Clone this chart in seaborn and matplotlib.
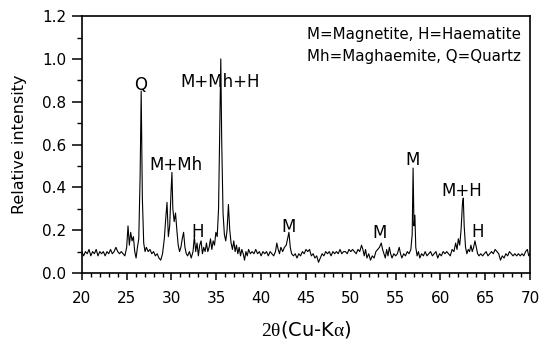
import matplotlib
matplotlib.use("Agg")
import matplotlib.pyplot as plt
import seaborn as sns
import pandas as pd
from matplotlib.ticker import MultipleLocator

# ---- data ----
two_theta = [
    20.0, 20.2, 20.4, 20.6, 20.8, 21.0, 21.2, 21.4, 21.6, 21.8,
    22.0, 22.2, 22.4, 22.6, 22.8, 23.0, 23.2, 23.4, 23.6, 23.8,
    24.0, 24.2, 24.4, 24.6, 24.8, 25.0, 25.15, 25.3, 25.45, 25.6,
    25.75, 25.9, 26.05, 26.2, 26.35, 26.5, 26.62, 26.75, 26.9, 27.05,
    27.2, 27.4, 27.6, 27.8, 28.0, 28.2, 28.4, 28.6, 28.8, 29.0,
    29.2, 29.35, 29.5, 29.65, 29.8, 29.95, 30.05, 30.15, 30.3, 30.45,
    30.6, 30.75, 30.9, 31.05, 31.2, 31.35, 31.5, 31.65, 31.8, 32.0,
    32.2, 32.4, 32.55, 32.7, 32.85, 33.0, 33.15, 33.3, 33.45, 33.6,
    33.75, 33.9, 34.05, 34.2, 34.35, 34.5, 34.65, 34.8, 34.95, 35.1,
    35.25, 35.4, 35.5, 35.6, 35.75, 35.9, 36.05, 36.2, 36.35, 36.5,
    36.65, 36.8, 36.95, 37.1, 37.25, 37.4, 37.55, 37.7, 37.85, 38.0,
    38.15, 38.3, 38.45, 38.6, 38.8, 39.0, 39.2, 39.4, 39.6, 39.8,
    40.0, 40.2, 40.4, 40.6, 40.8, 41.0, 41.2, 41.4, 41.6, 41.75,
    41.9, 42.05, 42.2, 42.4, 42.6, 42.8, 42.95, 43.1, 43.25, 43.4,
    43.6, 43.8, 44.0, 44.2, 44.4, 44.6, 44.8, 45.0, 45.2, 45.4,
    45.6, 45.8, 46.0, 46.2, 46.4, 46.6, 46.8, 47.0, 47.2, 47.4,
    47.6, 47.8, 48.0, 48.2, 48.4, 48.6, 48.8, 49.0, 49.2, 49.4,
    49.6, 49.8, 50.0, 50.2, 50.4, 50.6, 50.8, 51.0, 51.2, 51.35,
    51.5, 51.65, 51.8, 52.0, 52.2, 52.4, 52.6, 52.8, 53.0, 53.2,
    53.4, 53.55, 53.7, 53.85, 54.0, 54.15, 54.3, 54.45, 54.6, 54.8,
    55.0, 55.2, 55.4, 55.55, 55.7, 55.9, 56.1, 56.3, 56.5, 56.7,
    56.85, 56.95, 57.05, 57.15, 57.25, 57.4, 57.55, 57.7, 57.9, 58.1,
    58.3, 58.5, 58.7, 58.9, 59.1, 59.3, 59.5, 59.7, 59.9, 60.1,
    60.3, 60.5, 60.7, 60.9, 61.1, 61.3, 61.5, 61.7, 61.85, 62.0,
    62.15, 62.3, 62.45, 62.55, 62.65, 62.8, 62.95, 63.1, 63.25, 63.4,
    63.55, 63.7, 63.85, 64.0, 64.15, 64.3, 64.5, 64.7, 64.9, 65.1,
    65.3, 65.5, 65.7, 65.9, 66.1, 66.3, 66.5, 66.7, 66.9, 67.1,
    67.3, 67.5, 67.7, 67.9, 68.1, 68.3, 68.5, 68.7, 68.9, 69.1,
    69.3, 69.5, 69.7, 69.85, 70.0,
]
intensity = [
    0.10, 0.08, 0.10, 0.09, 0.11, 0.08, 0.10, 0.09, 0.11, 0.08,
    0.10, 0.09, 0.10, 0.08, 0.10, 0.09, 0.11, 0.09, 0.10, 0.12,
    0.10, 0.09, 0.10, 0.09, 0.08, 0.12, 0.22, 0.13, 0.19, 0.15,
    0.17, 0.10, 0.07, 0.12, 0.16, 0.45, 0.85, 0.35, 0.14, 0.10,
    0.12, 0.10, 0.11, 0.09, 0.10, 0.08, 0.09, 0.07, 0.06, 0.09,
    0.16, 0.25, 0.33, 0.17, 0.22, 0.38, 0.47, 0.30, 0.24, 0.28,
    0.20, 0.13, 0.10, 0.12, 0.16, 0.19, 0.12, 0.09, 0.08, 0.10,
    0.07, 0.10, 0.17, 0.10, 0.14, 0.08, 0.13, 0.15, 0.09, 0.12,
    0.10, 0.14, 0.10, 0.12, 0.16, 0.11, 0.15, 0.13, 0.19, 0.17,
    0.30, 0.72, 1.00, 0.62, 0.28, 0.18, 0.15, 0.20, 0.32, 0.20,
    0.14, 0.11, 0.15, 0.10, 0.13, 0.09, 0.12, 0.08, 0.11, 0.09,
    0.06, 0.10, 0.08, 0.11, 0.09, 0.10, 0.09, 0.11, 0.09, 0.10,
    0.08, 0.10, 0.09, 0.10, 0.08, 0.10, 0.09, 0.08, 0.10, 0.14,
    0.11, 0.09, 0.12, 0.10, 0.12, 0.13, 0.16, 0.19, 0.12, 0.09,
    0.08, 0.09, 0.07, 0.09, 0.08, 0.10, 0.09, 0.11, 0.10, 0.11,
    0.08, 0.09, 0.07, 0.08, 0.05, 0.07, 0.09, 0.08, 0.10, 0.09,
    0.10, 0.08, 0.10, 0.09, 0.10, 0.09, 0.11, 0.09, 0.10, 0.10,
    0.09, 0.11, 0.10, 0.11, 0.10, 0.09, 0.11, 0.10, 0.13, 0.11,
    0.08, 0.11, 0.07, 0.09, 0.06, 0.08, 0.07, 0.10, 0.11, 0.12,
    0.14, 0.11, 0.09, 0.07, 0.11, 0.08, 0.12, 0.09, 0.07, 0.09,
    0.08, 0.09, 0.12, 0.09, 0.07, 0.09, 0.08, 0.10, 0.09, 0.11,
    0.18, 0.49, 0.22, 0.27, 0.12, 0.08, 0.10, 0.07, 0.09, 0.08,
    0.10, 0.08, 0.09, 0.10, 0.08, 0.09, 0.10, 0.07, 0.09, 0.08,
    0.10, 0.09, 0.10, 0.09, 0.08, 0.11, 0.10, 0.14, 0.11, 0.16,
    0.13, 0.20, 0.32, 0.35, 0.22, 0.12, 0.09, 0.11, 0.10, 0.13,
    0.10, 0.12, 0.15, 0.12, 0.09, 0.08, 0.09, 0.08, 0.09, 0.10,
    0.08, 0.09, 0.10, 0.09, 0.11, 0.10, 0.09, 0.06, 0.08, 0.07,
    0.09, 0.08, 0.10, 0.09, 0.08, 0.09, 0.08, 0.09, 0.08, 0.09,
    0.08, 0.10, 0.11, 0.08, 0.09,
]

peak_labels = ["Q", "M+Mh", "H", "M+Mh+H", "M", "M", "M", "M+H", "H"]
peak_x = [26.6, 30.5, 32.9, 35.4, 43.1, 53.2, 56.9, 62.4, 64.1]
peak_y = [0.88, 0.505, 0.19, 0.89, 0.215, 0.185, 0.53, 0.385, 0.19]

legend_lines = ["M=Magnetite, H=Haematite", "Mh=Maghaemite, Q=Quartz"]
legend_y = [1.115, 1.013]

x_label = r"$\mathrm{2\theta}$(Cu-K$\alpha$)"
y_label = "Relative intensity"

# ---- style ----
sns.set_theme(style="ticks")
plt.rcParams["font.family"] = ["DejaVu Sans"]
plt.rcParams["mathtext.fontset"] = "custom"
plt.rcParams["mathtext.rm"] = "Liberation Serif"
plt.rcParams["mathtext.it"] = "Liberation Serif"

df = pd.DataFrame({"two_theta": two_theta, "intensity": intensity})

fig = plt.figure(figsize=(5.42, 3.5), dpi=100)
ax = fig.add_axes([0.151, 0.22, 0.827, 0.734])

sns.lineplot(data=df, x="two_theta", y="intensity", ax=ax, color="black",
             linewidth=0.8, sort=False, estimator=None)

ax.set_xlim(20, 70)
ax.set_ylim(0, 1.2)
ax.xaxis.set_major_locator(MultipleLocator(5))
ax.xaxis.set_minor_locator(MultipleLocator(1))
ax.yaxis.set_major_locator(MultipleLocator(0.2))
ax.yaxis.set_minor_locator(MultipleLocator(0.1))
ax.yaxis.set_major_formatter(plt.FuncFormatter(lambda v, p: f"{v:.1f}"))

for s in ax.spines.values():
    s.set_linewidth(1.2)
    s.set_color("black")

ax.tick_params(axis="both", which="both", direction="out", colors="black",
               labelsize=11, top=False, right=False)
ax.tick_params(axis="y", which="major", length=7, width=1.1, pad=4)
ax.tick_params(axis="y", which="minor", length=3.5, width=1.0)
ax.tick_params(axis="x", which="major", length=5, width=1.1, pad=8)
ax.tick_params(axis="x", which="minor", length=3, width=1.0)

ax.set_xlabel(x_label, fontsize=14, color="black", labelpad=9)
ax.set_ylabel(y_label, fontsize=11.5, color="black", labelpad=11)

for t, px, py in zip(peak_labels, peak_x, peak_y):
    ax.text(px, py, t, ha="center", va="center", fontsize=12, color="black")

for t, ly in zip(legend_lines, legend_y):
    ax.text(45.1, ly, t, ha="left", va="center", fontsize=10.8, color="black")

fig.savefig("out.png", dpi=100)
